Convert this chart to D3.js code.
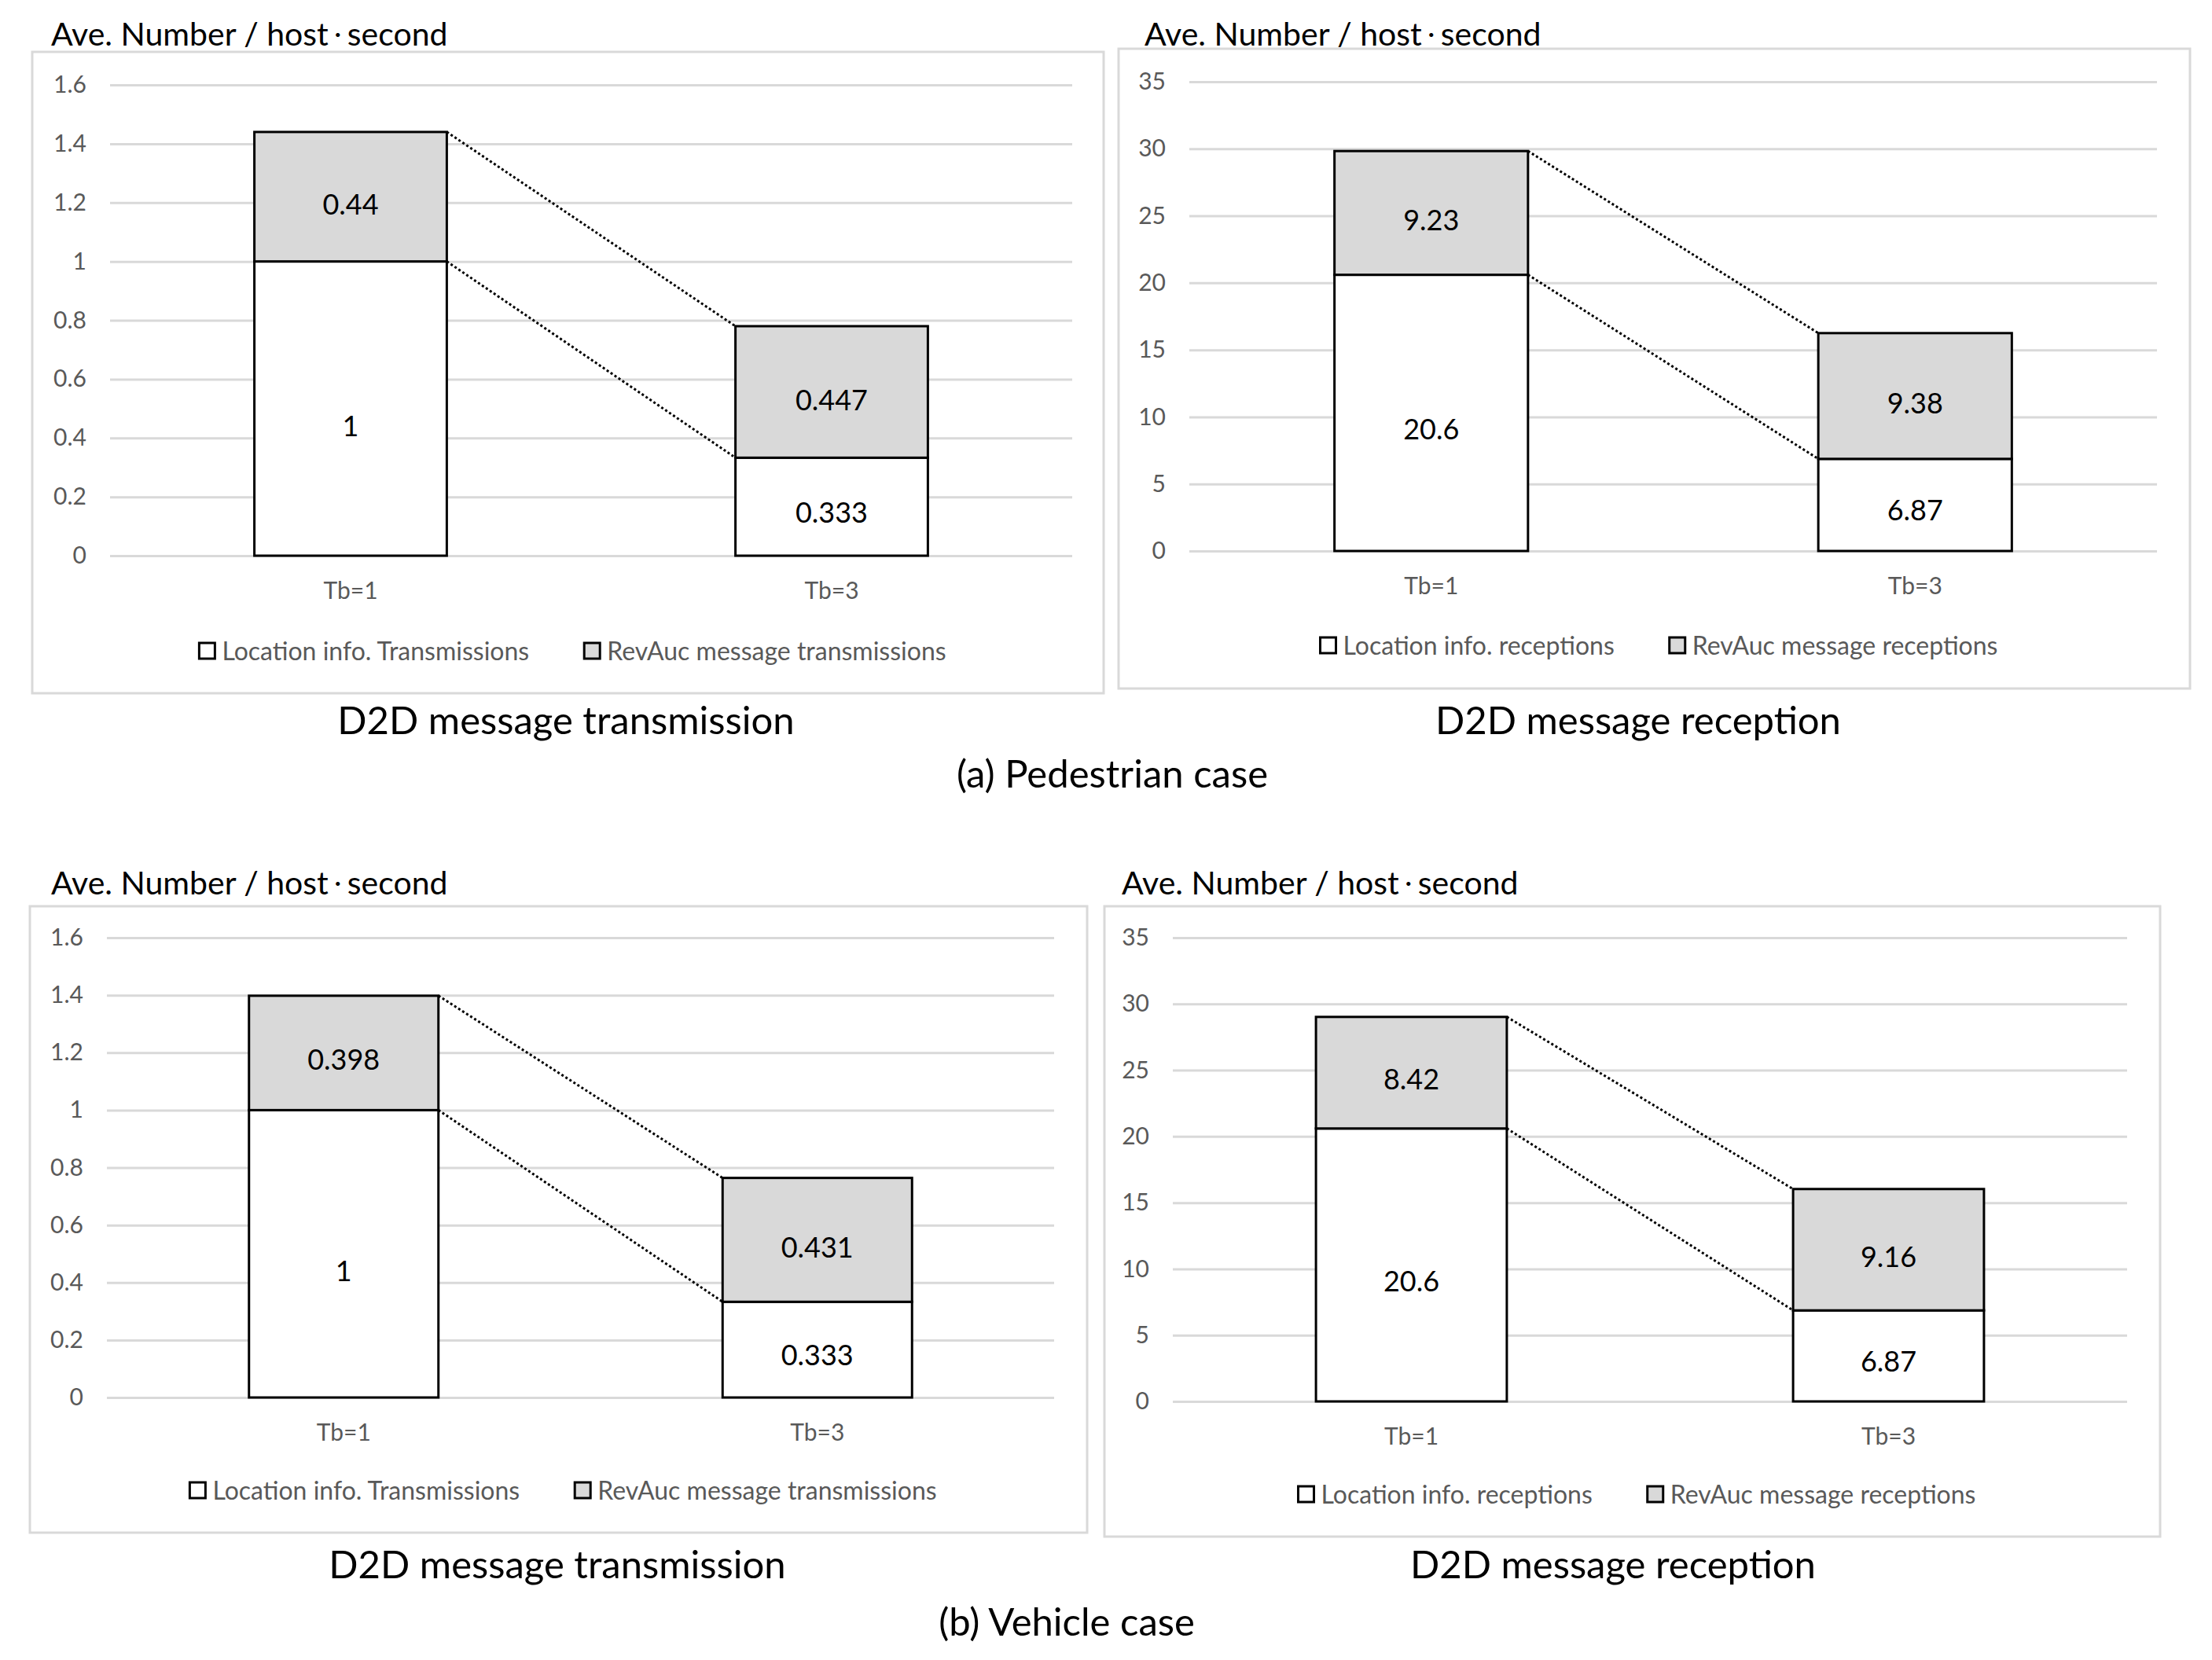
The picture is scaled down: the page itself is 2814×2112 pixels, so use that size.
<!DOCTYPE html>
<html>
<head>
<meta charset="utf-8">
<script src="https://cdn.jsdelivr.net/npm/d3@7/dist/d3.min.js"></script>
<style>
  body { margin: 0; background: #fff; }
  svg { display: block; font-family: Lato, 'Noto Sans CJK JP', sans-serif; }
</style>
</head>
<body>
<svg id="chart" width="2814" height="2112"></svg>
<script>
// values
const categories = ['Tb=1', 'Tb=3'];

const pedTransLocation = [1, 0.333];
const pedTransRevAuc = [0.44, 0.447];
const pedRecvLocation = [20.6, 6.87];
const pedRecvRevAuc = [9.23, 9.38];

const vehTransLocation = [1, 0.333];
const vehTransRevAuc = [0.398, 0.431];
const vehRecvLocation = [20.6, 6.87];
const vehRecvRevAuc = [8.42, 9.16];

const transTicks = [0, 0.2, 0.4, 0.6, 0.8, 1, 1.2, 1.4, 1.6];
const recvTicks = [0, 5, 10, 15, 20, 25, 30, 35];

const yTitleParts = ['Ave. Number / host', '・', 'second'];
const transLegend = ['Location info. Transmissions', 'RevAuc message transmissions'];
const recvLegend = ['Location info. receptions', 'RevAuc message receptions'];
const transCaption = 'D2D message transmission';
const recvCaption = 'D2D message reception';
const groupCaptions = ['(a) Pedestrian case', '(b) Vehicle case'];

// layout of the four panels (pixels)
const panels = [
  { lower: pedTransLocation, upper: pedTransRevAuc, ticks: transTicks, legend: transLegend, caption: transCaption,
    box: [41, 66, 1404, 882], plot: [140, 1364, 108, 707], titleX: 65, titleY: 58,
    legendY: 828, captionX: 720, captionY: 934 },
  { lower: pedRecvLocation, upper: pedRecvRevAuc, ticks: recvTicks, legend: recvLegend, caption: recvCaption,
    box: [1423, 62, 2786, 876], plot: [1513, 2744, 104, 701], titleX: 1456, titleY: 58,
    legendY: 821, captionX: 2084, captionY: 934 },
  { lower: vehTransLocation, upper: vehTransRevAuc, ticks: transTicks, legend: transLegend, caption: transCaption,
    box: [38, 1153, 1383, 1950], plot: [136, 1341, 1193, 1778], titleX: 65, titleY: 1138,
    legendY: 1896, captionX: 709, captionY: 2008 },
  { lower: vehRecvLocation, upper: vehRecvRevAuc, ticks: recvTicks, legend: recvLegend, caption: recvCaption,
    box: [1405, 1153, 2748, 1955], plot: [1492, 2706, 1193, 1783], titleX: 1427, titleY: 1138,
    legendY: 1901, captionX: 2052, captionY: 2008 }
];

const groupCaptionPos = [[1415, 1002], [1357, 2081]];

const gridColor = '#d9d9d9';
const textGray = '#595959';
const upperFill = '#d9d9d9';

const svg = d3.select('#chart');

svg.append('rect')
  .attr('width', 2814)
  .attr('height', 2112)
  .attr('fill', '#fff');

function drawPanel(p) {
  const g = svg.append('g');
  const [bx0, by0, bx1, by1] = p.box;
  const [px0, px1, py0, py1] = p.plot;

  // outer chart frame
  g.append('rect')
    .attr('x', bx0).attr('y', by0)
    .attr('width', bx1 - bx0).attr('height', by1 - by0)
    .attr('fill', '#fff')
    .attr('stroke', gridColor)
    .attr('stroke-width', 3);

  // axis title above the frame; the middle dot is set smaller so it sits tight
  const title = g.append('text')
    .attr('x', p.titleX)
    .attr('y', p.titleY)
    .attr('font-size', 41)
    .attr('fill', '#000');
  title.append('tspan').text(yTitleParts[0]);
  title.append('tspan').attr('font-size', 24).attr('dy', -5).text(yTitleParts[1]);
  title.append('tspan').attr('dy', 5).text(yTitleParts[2]);

  const x = d3.scaleBand()
    .domain(categories)
    .range([px0, px1])
    .paddingInner(0.6)
    .paddingOuter(0.3);

  const y = d3.scaleLinear()
    .domain([0, d3.max(p.ticks)])
    .range([py1, py0]);

  const yAxis = d3.axisLeft(y)
    .tickValues(p.ticks)
    .tickFormat(d => String(+d.toFixed(1)))
    .tickSizeInner(-(px1 - px0))
    .tickSizeOuter(0)
    .tickPadding(30);

  const yg = g.append('g')
    .attr('transform', `translate(${px0},0)`)
    .call(yAxis);
  yg.select('.domain').remove();
  yg.selectAll('line').attr('stroke', gridColor).attr('stroke-width', 3);
  yg.selectAll('text')
    .attr('font-size', 30)
    .attr('font-family', 'Lato, sans-serif')
    .attr('fill', textGray);

  const xAxis = d3.axisBottom(x).tickSize(0).tickPadding(34);
  const xg = g.append('g')
    .attr('transform', `translate(0,${py1})`)
    .call(xAxis);
  xg.select('.domain').remove();
  xg.selectAll('text')
    .attr('font-size', 30)
    .attr('font-family', 'Lato, sans-serif')
    .attr('fill', textGray);

  const rows = categories.map((c, i) => ({
    cat: c,
    lower: p.lower[i],
    upper: p.upper[i],
    total: p.lower[i] + p.upper[i]
  }));

  // stacked bars
  g.selectAll('.lowerBar')
    .data(rows)
    .join('rect')
    .attr('x', d => x(d.cat))
    .attr('width', x.bandwidth())
    .attr('y', d => y(d.lower))
    .attr('height', d => y(0) - y(d.lower))
    .attr('fill', '#fff')
    .attr('stroke', '#000')
    .attr('stroke-width', 3);

  g.selectAll('.upperBar')
    .data(rows)
    .join('rect')
    .attr('x', d => x(d.cat))
    .attr('width', x.bandwidth())
    .attr('y', d => y(d.total))
    .attr('height', d => y(d.lower) - y(d.total))
    .attr('fill', upperFill)
    .attr('stroke', '#000')
    .attr('stroke-width', 3);

  // dotted series lines between the bars
  const a = rows[0], b = rows[1];
  ['lower', 'total'].forEach(k => {
    g.append('line')
      .attr('x1', x(a.cat) + x.bandwidth())
      .attr('y1', y(a[k]))
      .attr('x2', x(b.cat))
      .attr('y2', y(b[k]))
      .attr('stroke', '#000')
      .attr('stroke-width', 3)
      .attr('stroke-dasharray', '3,3');
  });

  // data labels
  rows.forEach(d => {
    g.append('text')
      .attr('x', x(d.cat) + x.bandwidth() / 2)
      .attr('y', y(d.lower * 0.44))
      .attr('dy', '0.36em')
      .attr('text-anchor', 'middle')
      .attr('font-size', 36)
      .attr('fill', '#000')
      .text(d.lower);
    g.append('text')
      .attr('x', x(d.cat) + x.bandwidth() / 2)
      .attr('y', y(d.lower + d.upper * 0.44))
      .attr('dy', '0.36em')
      .attr('text-anchor', 'middle')
      .attr('font-size', 36)
      .attr('fill', '#000')
      .text(d.upper);
  });

  // legend, centred on the frame
  const lg = g.append('g');
  const fills = ['#fff', upperFill];
  let cx = 0;
  p.legend.forEach((name, i) => {
    lg.append('rect')
      .attr('x', cx).attr('y', -10)
      .attr('width', 20).attr('height', 20)
      .attr('fill', fills[i])
      .attr('stroke', '#000')
      .attr('stroke-width', 3);
    const t = lg.append('text')
      .attr('x', cx + 29)
      .attr('y', 0)
      .attr('dy', '0.36em')
      .attr('font-size', 32)
      .attr('fill', textGray)
      .text(name);
    cx += 29 + t.node().getComputedTextLength() + 70;
  });
  const lw = cx - 70;
  lg.attr('transform', `translate(${(bx0 + bx1) / 2 + 6 - lw / 2},${p.legendY})`);

  svg.append('text')
    .attr('x', p.captionX)
    .attr('y', p.captionY)
    .attr('text-anchor', 'middle')
    .attr('font-size', 49)
    .attr('fill', '#000')
    .text(p.caption);
}

panels.forEach(drawPanel);

groupCaptions.forEach((c, i) => {
  svg.append('text')
    .attr('x', groupCaptionPos[i][0])
    .attr('y', groupCaptionPos[i][1])
    .attr('text-anchor', 'middle')
    .attr('font-size', 49)
    .attr('fill', '#000')
    .text(c);
});
</script>
</body>
</html>
